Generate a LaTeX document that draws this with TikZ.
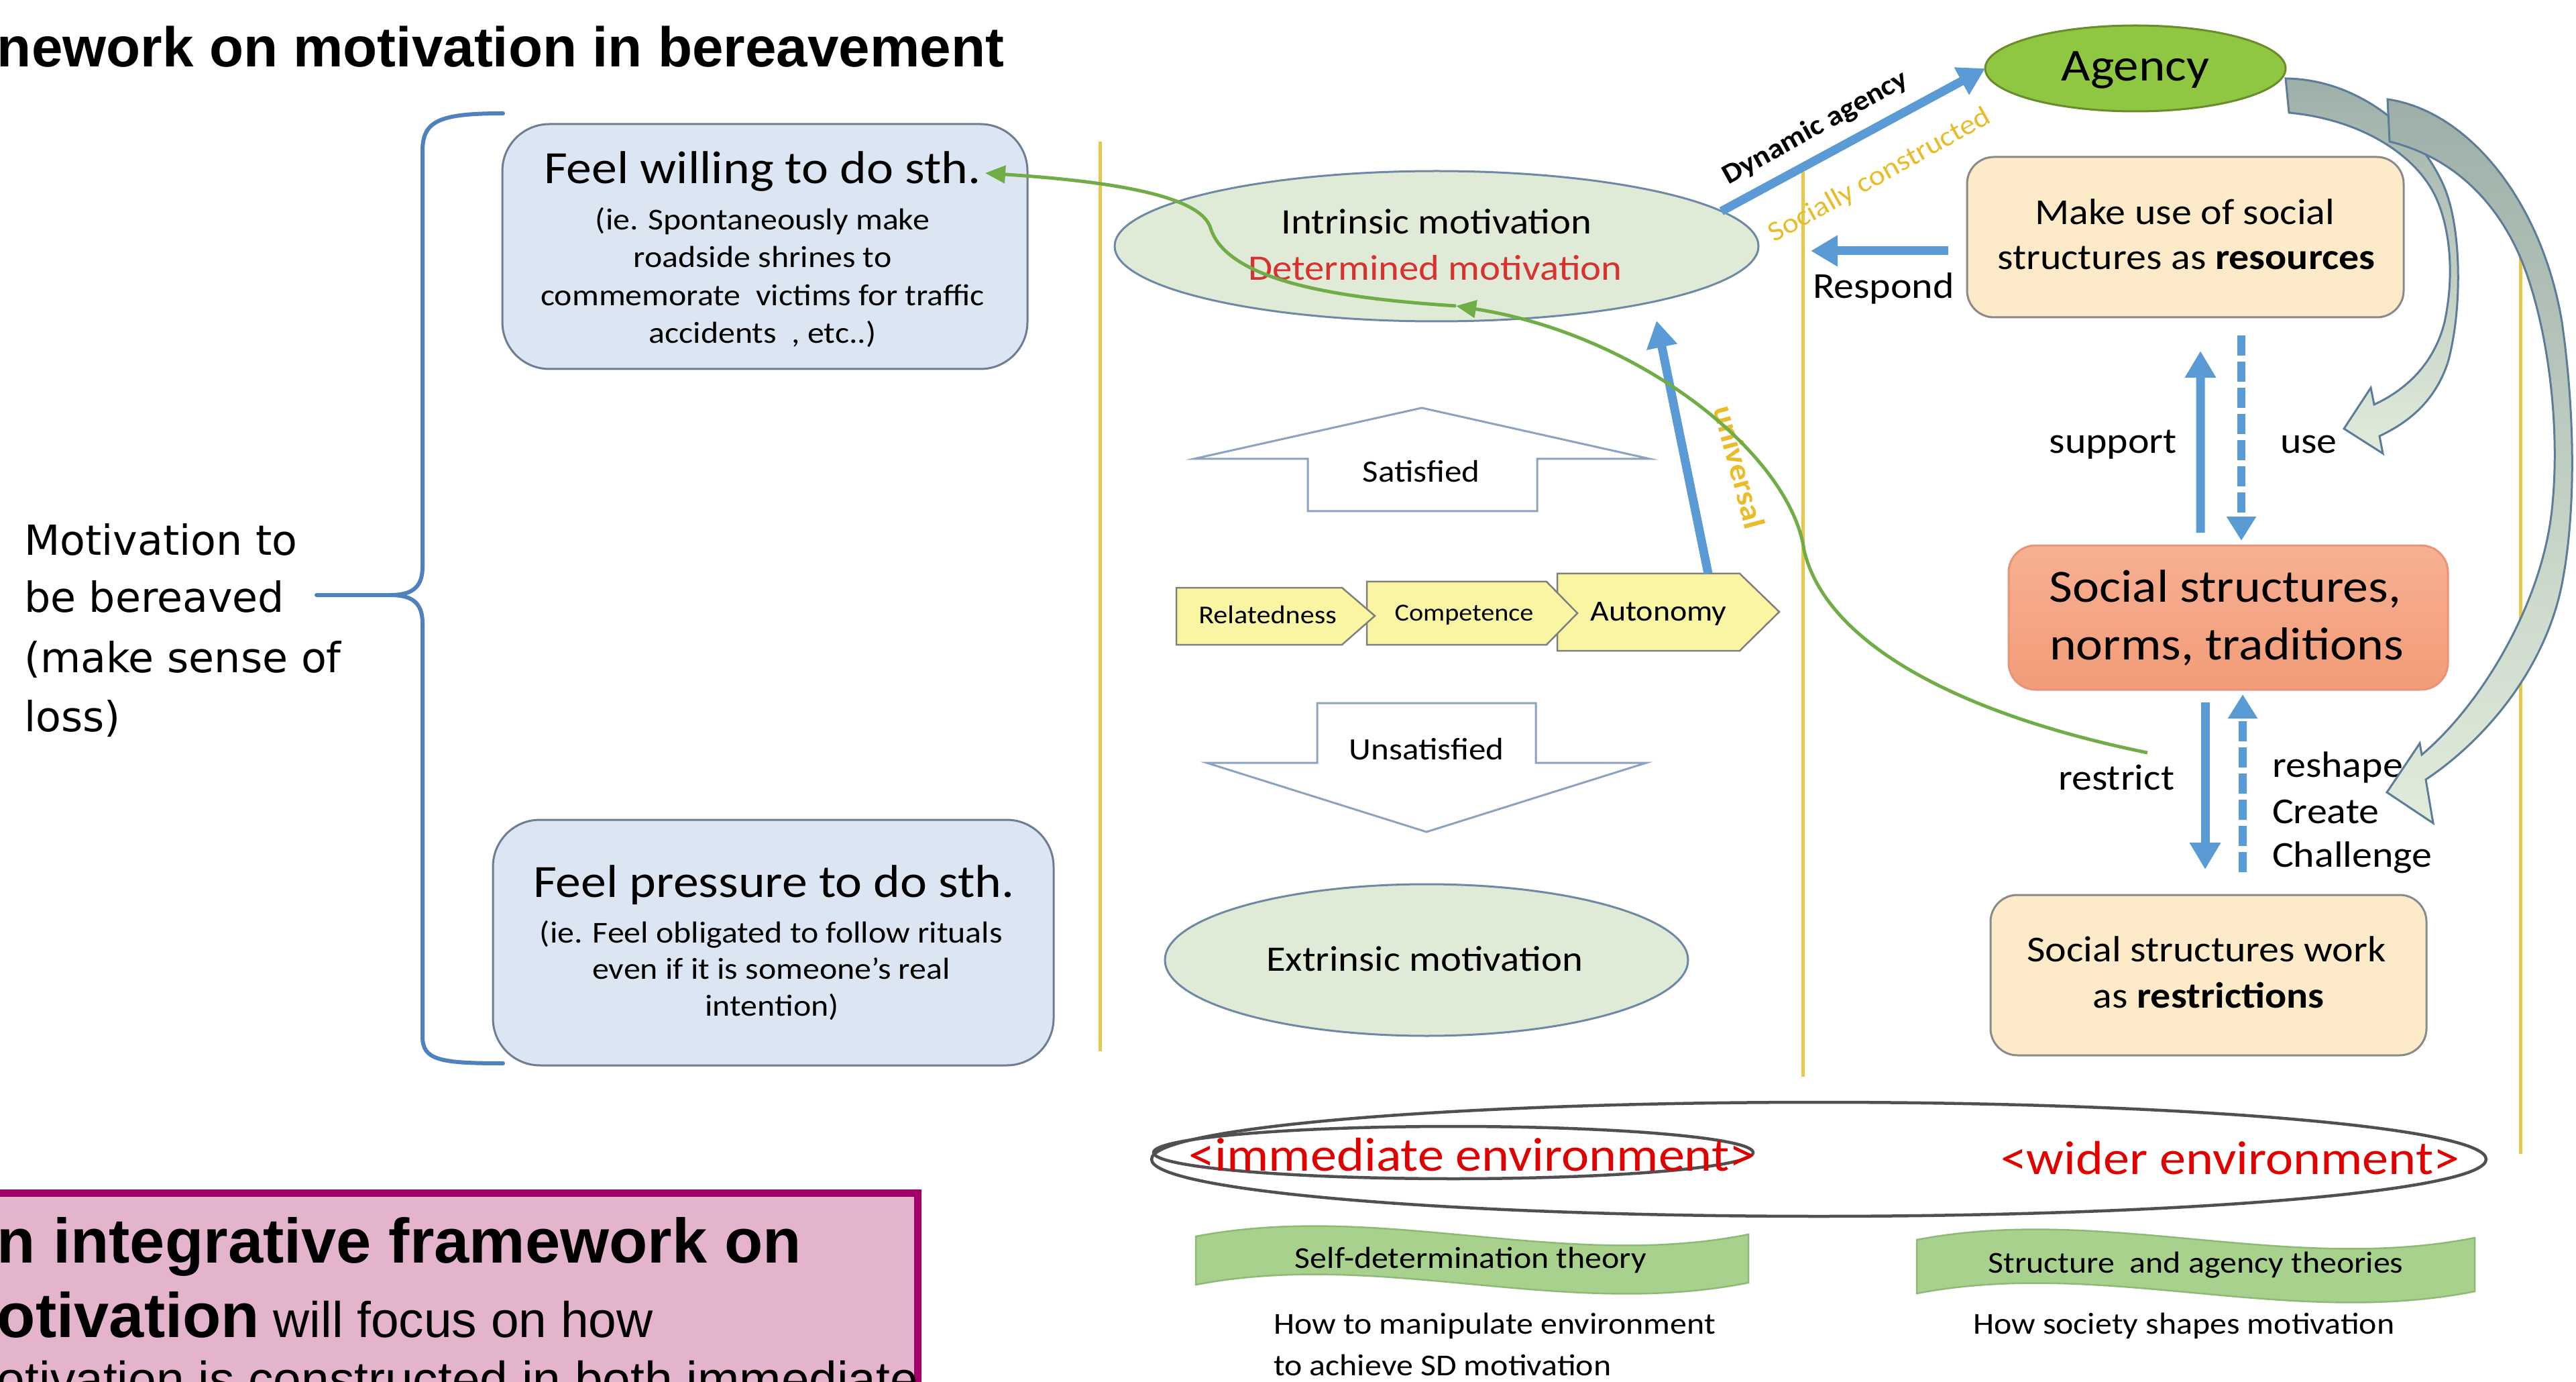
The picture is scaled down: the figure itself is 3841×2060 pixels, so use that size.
\documentclass[tikz,border=0pt]{standalone}
\usepackage{fontspec}
\setmainfont{Carlito}[FakeStretch=1.1]
\newfontfamily\arialf{Liberation Sans}
\newfontfamily\dejavuf{DejaVu Sans}
\usetikzlibrary{arrows.meta,calc,shapes.geometric}
\newcommand{\fsz}[1]{\fontsize{#1}{#1}\selectfont}
\definecolor{boxblue}{HTML}{DCE6F2}
\definecolor{boxedge}{HTML}{6E7E92}
\definecolor{ellgreen}{HTML}{E0EBD7}
\definecolor{elledge}{HTML}{6F88A6}
\definecolor{agencyfill}{HTML}{8FC742}
\definecolor{agencyedge}{HTML}{6A8C2A}
\definecolor{peach}{HTML}{FCEAC8}
\definecolor{peachedge}{HTML}{8A8A8A}
\definecolor{salmontop}{HTML}{F7B093}
\definecolor{salmonbot}{HTML}{F29C78}
\definecolor{salmonedge}{HTML}{E8937A}
\definecolor{chevfill}{HTML}{F9F5A3}
\definecolor{chevedge}{HTML}{7F7F7F}
\definecolor{blockedge}{HTML}{8CA3BF}
\definecolor{myblue}{HTML}{5B9BD5}
\definecolor{gold}{HTML}{E9BC2C}
\definecolor{yellowline}{HTML}{E4C94C}
\definecolor{mygreen}{HTML}{70AD47}
\definecolor{detred}{HTML}{D93030}
\definecolor{envred}{HTML}{E00000}
\definecolor{envedge}{HTML}{505050}
\definecolor{bannerfill}{HTML}{A9D18E}
\definecolor{banneredge}{HTML}{8DBB76}
\definecolor{curvetop}{HTML}{9DAFA8}
\definecolor{curvebot}{HTML}{E1ECDB}
\definecolor{curveedge}{HTML}{5D7C99}
\definecolor{pinkfill}{HTML}{E3B4CC}
\definecolor{magentaedge}{HTML}{A3006B}
\definecolor{bracecol}{HTML}{4F81BD}
\tikzset{
 lbl/.style={inner sep=0pt, outer sep=0pt, anchor=base},
 bluebox/.style={draw=boxedge, fill=boxblue, line width=0.3mm, rounded corners=7mm, inner sep=0pt, outer sep=0pt},
 peachbox/.style={draw=peachedge, fill=peach, line width=0.3mm, rounded corners=4mm, inner sep=0pt, outer sep=0pt},
 salmonbox/.style={draw=salmonedge, top color=salmontop, bottom color=salmonbot, line width=0.3mm, rounded corners=4mm, inner sep=0pt, outer sep=0pt},
 ovalnode/.style={ellipse, draw=elledge, fill=ellgreen, line width=0.3mm, inner sep=0pt, outer sep=0pt},
 agencynode/.style={ellipse, draw=agencyedge, fill=agencyfill, line width=0.3mm, inner sep=0pt, outer sep=0pt},
 yline/.style={draw=yellowline, line width=0.5mm},
 bline/.style={draw=myblue, line width=1.3mm},
 barrow/.style={bline, -{Triangle[length=4mm,width=4.4mm]}},
 dline/.style={draw=myblue, line width=1.2mm, dash pattern=on 3mm off 0.9mm, -{Triangle[length=3.6mm,width=4.2mm]}},
 garrow/.style={draw=mygreen, line width=0.5mm, -{Triangle[length=3mm,width=2.6mm]}},
 blockarrow/.style={draw=blockedge, fill=white, line width=0.3mm},
 chev/.style={draw=chevedge, fill=chevfill, line width=0.25mm},
 curvearrow/.style={draw=curveedge, line width=0.3mm, top color=curvetop, bottom color=curvebot},
 banner/.style={draw=banneredge, fill=bannerfill, line width=0.25mm},
 envell/.style={ellipse, draw=envedge, line width=0.45mm, inner sep=0pt, outer sep=0pt},
 bracestyle/.style={draw=bracecol, line width=0.6mm, line cap=round},
}
\begin{document}
\begin{tikzpicture}[x=0.1mm,y=-0.1mm]
\useasboundingbox (0,0) rectangle (3841,2060);
\clip (0,0) rectangle (3841,2060);
\fill[white] (0,0) rectangle (3841,2060);

% yellow separators
\draw[yline] (1640,211) -- (1640,1567);
\draw[yline] (2688,256) -- (2688,1605);
\draw[yline] (3758,320) -- (3758,1720);

% title
\node[lbl, anchor=base west, font=\arialf\bfseries\fsz{23.8}] (title) at (-4,100) {nework on motivation in bereavement};

% brace and left text
\draw[bracestyle] (750,169) .. controls (655,169) and (630,180) .. (630,225) -- (630,845) .. controls (630,875) and (615,887) .. (582,887) -- (472,887);
\draw[bracestyle] (582,887) .. controls (615,887) and (630,899) .. (630,929) -- (630,1545) .. controls (630,1580) and (655,1585) .. (750,1585);
\node[lbl, anchor=base west, font=\dejavuf\fsz{17.6}] (mot1) at (36,827) {Motivation to};
\node[lbl, anchor=base west, font=\dejavuf\fsz{17.6}] (mot2) at (36,913) {be bereaved};
\node[lbl, anchor=base west, font=\dejavuf\fsz{17.6}] (mot3) at (36,1002) {(make sense of};
\node[lbl, anchor=base west, font=\dejavuf\fsz{17.6}] (mot4) at (36,1090) {loss)};

% left boxes
\node[bluebox, minimum width=78.3mm, minimum height=36.5mm] (willing) at (1140.5,367.5) {};
\node[lbl, font=\fsz{19.6}] (willingT) at (1137,274) {Feel willing to do sth.};
\node[lbl, font=\fsz{12.9}] (willing1) at (1137,343) {(ie. Spontaneously make};
\node[lbl, font=\fsz{12.9}] (willing2) at (1137,399) {roadside shrines to};
\node[lbl, font=\fsz{12.9}] (willing3) at (1137,456) {commemorate\ \ victims for traffic};
\node[lbl, font=\fsz{12.9}] (willing4) at (1137,512) {accidents\ \ , etc..)};

\node[bluebox, minimum width=83.6mm, minimum height=36.6mm] (pressure) at (1153,1405) {};
\node[lbl, font=\fsz{19.6}] (pressureT) at (1154,1337) {Feel pressure to do sth.};
\node[lbl, font=\fsz{12.9}] (pressure1) at (1150,1405) {(ie. Feel obligated to follow rituals};
\node[lbl, font=\fsz{12.9}] (pressure2) at (1150,1459) {even if it is someone’s real};
\node[lbl, font=\fsz{12.9}] (pressure3) at (1151,1514) {intention)};

% middle column
\node[ovalnode, minimum width=96mm, minimum height=22.4mm] (intrinsic) at (2142,367) {};
\node[lbl, font=\fsz{15.2}] (intrT) at (2142,349) {Intrinsic motivation};
\node[lbl, font=\fsz{15.2}, text=detred] (detT) at (2140,418) {Determined motivation};

\node[ovalnode, minimum width=78mm, minimum height=22.6mm] (extrinsic) at (2127,1431) {};
\node[lbl, font=\fsz{15.2}] (extrT) at (2124,1447) {Extrinsic motivation};

\draw[blockarrow] (2120,608) -- (2460,684) -- (2292,684) -- (2292,762) -- (1950,762) -- (1950,684) -- (1780,684) -- cycle;
\node[lbl, font=\fsz{13.2}] (satisfied) at (2119,719) {Satisfied};
\draw[blockarrow] (1964,1048) -- (2290,1048) -- (2290,1137) -- (2455,1137) -- (2127,1240) -- (1799,1137) -- (1964,1137) -- cycle;
\node[lbl, font=\fsz{13.2}] (unsatisfied) at (2127,1132) {Unsatisfied};

\draw[chev] (2322,855) -- (2594,855) -- (2653,912) -- (2594,970) -- (2322,970) -- cycle;
\draw[chev] (2038,867) -- (2306,867) -- (2352,914) -- (2306,961) -- (2038,961) -- cycle;
\draw[chev] (1754,876) -- (2001,876) -- (2050,918) -- (2001,961) -- (1754,961) -- cycle;
\node[lbl, font=\fsz{10.9}] (rel) at (1890,929) {Relatedness};
\node[lbl, font=\fsz{10.4}] (comp) at (2183,926) {Competence};
\node[lbl, font=\fsz{12.4}] (auto) at (2473,925) {Autonomy};

% right column
\node[agencynode, minimum width=44.8mm, minimum height=12.8mm] (agency) at (3184,102) {};
\node[lbl, font=\fsz{19.4}] (agencyT) at (3184,121) {Agency};

\node[peachbox, minimum width=65.1mm, minimum height=23.9mm] (makeuse) at (3258.5,353.5) {};
\node[lbl, font=\fsz{15.5}] (makeuse1) at (3258,335) {Make use of social};
\node[lbl, font=\fsz{15.5}] (makeuse2) at (3260,402) {structures as \textbf{resources}};

\node[salmonbox, minimum width=65.5mm, minimum height=21.5mm] (social) at (3322.5,920.5) {};
\node[lbl, font=\fsz{19.6}] (social1) at (3318,898) {Social structures,};
\node[lbl, font=\fsz{19.6}] (social2) at (3320,983) {norms, traditions};

\node[peachbox, minimum width=65mm, minimum height=23.9mm] (restr) at (3293,1453.5) {};
\node[lbl, font=\fsz{15.5}] (restr1) at (3290,1433) {Social structures work};
\node[lbl, font=\fsz{15.5}] (restr2) at (3293,1502) {as \textbf{restrictions}};

\node[lbl, anchor=base east, font=\fsz{15.5}] (support) at (3246,676) {support};
\node[lbl, anchor=base west, font=\fsz{15.5}] (use) at (3400,676) {use};
\node[lbl, anchor=base east, font=\fsz{15.5}] (restrict) at (3242,1177) {restrict};
\node[lbl, anchor=base west, font=\fsz{15.5}] (reshape) at (3388,1158) {reshape};
\node[lbl, anchor=base west, font=\fsz{15.5}] (create) at (3388,1227) {Create};
\node[lbl, anchor=base west, font=\fsz{15.5}] (challenge) at (3388,1292) {Challenge};
\node[lbl, anchor=base west, font=\fsz{15.5}] (respond) at (2703,445) {Respond};

% blue connectors
\coordinate (respTail) at (2905,374);
\coordinate (respTip) at (2700,374);
\coordinate (autoTop) at (2547,855);
\coordinate (univTip) at (2470,478);
\draw[barrow] (intrinsic.7) -- (agency.west);
\draw[barrow] (respTail) -- (respTip);
\draw[barrow] (autoTop) -- (univTip);
\draw[barrow] ($(social.north)+(-41.5,-19)$) -- ($(makeuse.south)+(22.5,50)$);
\draw[dline] ($(makeuse.south)+(83.5,27)$) -- ($(social.north)+(19.5,-7)$);
\draw[barrow] ($(social.south)+(-34.5,19)$) -- ($(restr.north)+(-5,-38)$);
\draw[dline] ($(restr.north)+(51,-34)$) -- ($(social.south)+(21.5,7)$);

\node[lbl, anchor=center, rotate=29, font=\bfseries\fsz{11.9}] (dynlbl) at (2707,191) {Dynamic agency};
\node[lbl, anchor=center, rotate=29, font=\fsz{11.9}, text=gold] (soclbl) at (2803,262) {Socially constructed};
\node[lbl, anchor=center, rotate=-75, font=\bfseries\fsz{12.9}, text=gold] (univlbl) at (2594,696) {universal};

% green curve
\coordinate (gStart) at (3202,1122);
\coordinate (gMid) at (2171,456);
\coordinate (gEnd) at (1469,258);
\draw[garrow] (gStart) .. controls (2900,1060) and (2720,950) .. (2690,820) .. controls (2670,680) and (2450,500) .. (gMid);
\draw[garrow] (gMid) .. controls (2000,445) and (1830,420) .. (1805,340) .. controls (1790,290) and (1650,270) .. (gEnd);

% curved block arrows from Agency
\draw[curvearrow] (3408,117) .. controls (3520,118) and (3612,200) .. (3645,280) .. controls (3670,340) and (3672,460) .. (3650,540) .. controls (3630,600) and (3590,630) .. (3548,650) -- (3553,676) -- (3495,639) -- (3535,578) -- (3540,603) .. controls (3590,580) and (3630,540) .. (3645,480) .. controls (3662,400) and (3650,330) .. (3630,290) .. controls (3600,230) and (3520,178) .. (3413,168) -- cycle;
\draw[curvearrow] (3560,148) .. controls (3680,165) and (3790,300) .. (3820,480) .. controls (3840,620) and (3840,760) .. (3822,860) .. controls (3800,990) and (3710,1100) .. (3617,1162) -- (3628,1227) -- (3559,1181) -- (3608,1108) -- (3611,1125) .. controls (3700,1050) and (3790,900) .. (3805,760) .. controls (3818,640) and (3800,500) .. (3767,407) .. controls (3740,330) and (3680,240) .. (3563,211) -- cycle;

% bottom environments
\node[envell, minimum width=199mm, minimum height=17mm] (envall) at (2712,1728) {};
\node[envell, minimum width=89.4mm, minimum height=7.8mm] (envimm) at (2167,1718) {};
\node[lbl, font=\fsz{20.2}, text=envred] (immT) at (2195,1745) {<immediate environment>};
\node[lbl, font=\fsz{20.2}, text=envred] (widerT) at (3325,1750) {<wider environment>};

\draw[banner] (1783,1843) .. controls (2060,1790) and (2330,1895) .. (2607,1840) -- (2607,1912) .. controls (2330,1967) and (2060,1862) .. (1783,1915) -- cycle;
\draw[banner] (2858,1848) .. controls (3135,1795) and (3410,1900) .. (3690,1845) -- (3690,1925) .. controls (3410,1980) and (3135,1875) .. (2858,1928) -- cycle;
\node[lbl, font=\fsz{12.9}] (sdt) at (2193,1890) {Self-determination theory};
\node[lbl, font=\fsz{12.9}] (sat) at (3274,1897) {Structure\ \ and agency theories};
\node[lbl, anchor=base west, font=\fsz{12.9}] (how1) at (1899,1988) {How to manipulate environment};
\node[lbl, anchor=base west, font=\fsz{12.9}] (how2) at (1899,2050) {to achieve SD motivation};
\node[lbl, anchor=base west, font=\fsz{12.9}] (how3) at (2942,1988) {How society shapes motivation};

% pink box
\draw[draw=magentaedge, fill=pinkfill, line width=1.1mm] (-60,1778) rectangle (1368,2200);
\node[lbl, anchor=base west, font=\arialf\bfseries\fsz{26.7}] (pink1) at (-4,1882) {n integrative framework on};
\node[lbl, anchor=base west, font=\arialf\fsz{21.3}] (pink2) at (-4,1993) {{\bfseries\fsz{26.7}otivation} will focus on how};
\node[lbl, anchor=base west, font=\arialf\fsz{21.3}] (pink3) at (-4,2082) {otivation is constructed in both immediate};
\end{tikzpicture}
\end{document}
